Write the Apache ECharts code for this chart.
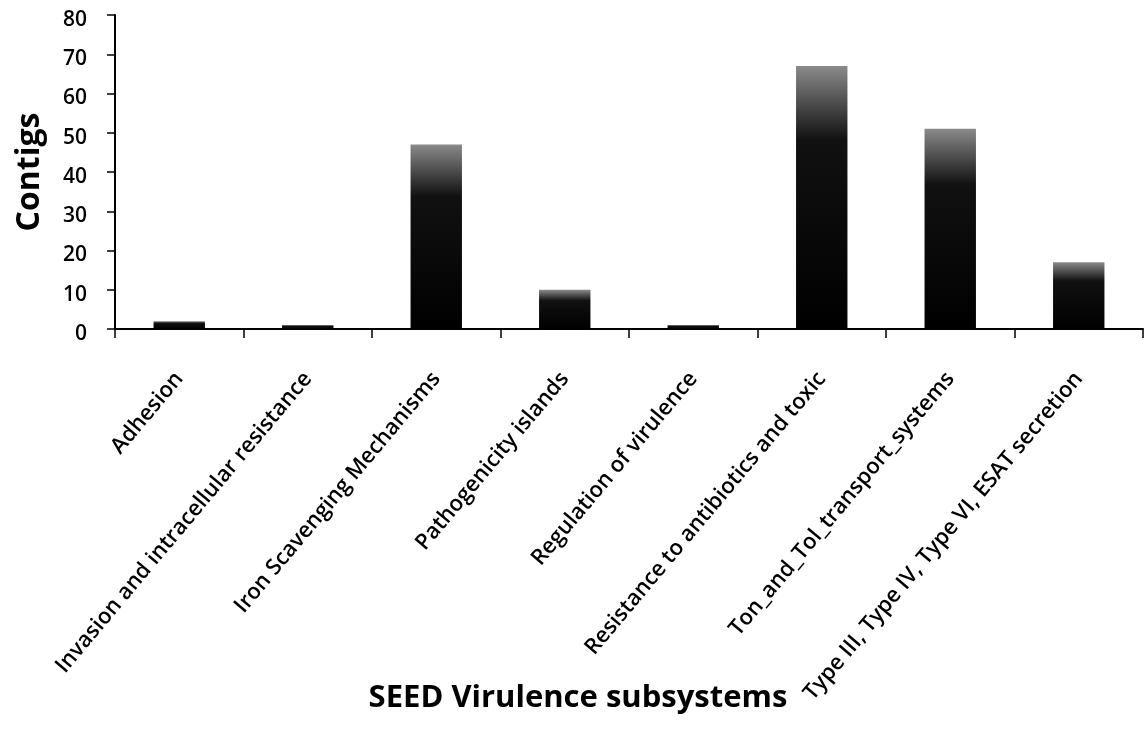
<!DOCTYPE html>
<html><head><meta charset="utf-8">
<script src="https://cdn.jsdelivr.net/npm/echarts@6/dist/echarts.min.js"></script>
<style>html,body{margin:0;padding:0;background:#fff}#c{width:1146px;height:741px}</style>
</head><body><div id="c"></div>
<script>
const categories = ["Adhesion","Invasion and intracellular resistance","Iron Scavenging Mechanisms","Pathogenicity islands","Regulation of virulence","Resistance to antibiotics and toxic","Ton_and_Tol_transport_systems","Type III, Type IV, Type VI, ESAT secretion"];
const contigs = [2, 1, 47, 10, 1, 67, 51, 17];
const yTicks = {min: 0, max: 80, interval: 10};
const xTitle = 'SEED Virulence subsystems';
const yTitle = 'Contigs';

const chart = echarts.init(document.getElementById('c'));
const font = '"Open Sans", Lato, sans-serif';
chart.setOption({
  backgroundColor: '#fff',
  animation: false,
  grid: {left: 115, right: 3, top: 15, bottom: 412, containLabel: false},
  graphic: [{
    type: 'text', x: 578, y: 698,
    style: {text: xTitle, fill: '#000', font: 'bold 31px ' + font, textAlign: 'center', textVerticalAlign: 'middle'}
  }],
  xAxis: {
    type: 'category', data: categories,
    axisLine: {lineStyle: {color: '#000', width: 2}},
    axisTick: {show: true, alignWithLabel: false, length: 9, lineStyle: {color: '#000', width: 1.5}},
    axisLabel: {rotate: 50, interval: 0, margin: 46, color: '#000', fontSize: 22, fontWeight: 600, fontFamily: font}
  },
  yAxis: {
    type: 'value', min: yTicks.min, max: yTicks.max, interval: yTicks.interval,
    splitLine: {show: false},
    axisLine: {show: true, lineStyle: {color: '#000', width: 2}},
    axisTick: {show: true, length: 8, lineStyle: {color: '#000', width: 1.5}},
    axisLabel: {color: '#000', fontSize: 21, fontWeight: 600, fontFamily: font, margin: 28, verticalAlign: 'top', lineHeight: 10},
    name: yTitle, nameLocation: 'middle', nameGap: 69, nameRotate: 90,
    nameTextStyle: {color: '#000', fontSize: 32, fontWeight: 'bold', fontFamily: font}
  },
  series: [{
    type: 'bar', data: contigs, barWidth: '40%',
    itemStyle: {
      color: new echarts.graphic.LinearGradient(0, 0, 0, 1, [
        {offset: 0, color: '#8a8a8a'},
        {offset: 0.28, color: '#111'},
        {offset: 1, color: '#000'}
      ])
    }
  }]
});
</script></body></html>
